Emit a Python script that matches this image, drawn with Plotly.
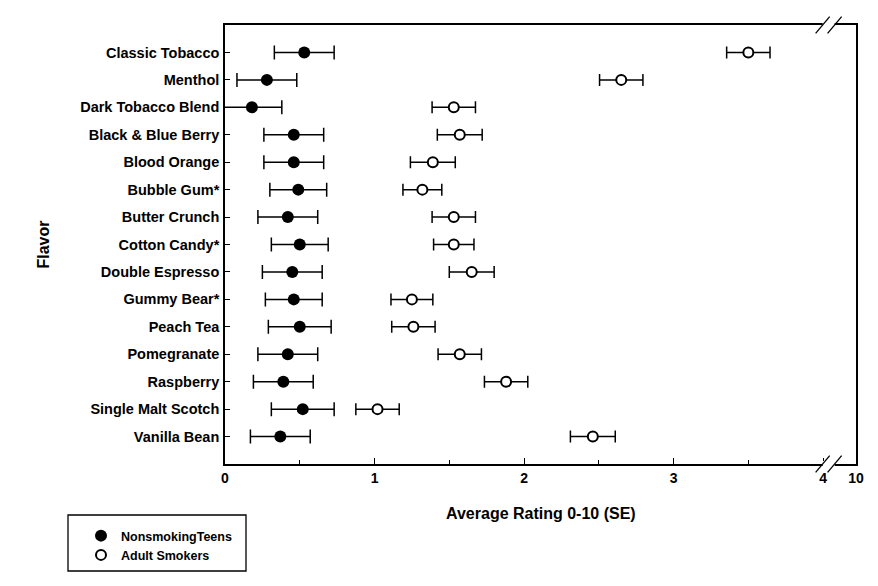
import plotly.graph_objects as go

flavors = ["Classic Tobacco", "Menthol", "Dark Tobacco Blend", "Black & Blue Berry",
           "Blood Orange", "Bubble Gum*", "Butter Crunch", "Cotton Candy*",
           "Double Espresso", "Gummy Bear*", "Peach Tea", "Pomegranate",
           "Raspberry", "Single Malt Scotch", "Vanilla Bean"]

teen_mean = [0.53, 0.28, 0.18, 0.46, 0.46, 0.49, 0.42, 0.50, 0.45, 0.46, 0.50, 0.42, 0.39, 0.52, 0.37]
teen_se = [0.20, 0.20, 0.20, 0.20, 0.20, 0.19, 0.20, 0.19, 0.20, 0.19, 0.21, 0.20, 0.20, 0.21, 0.20]

adult_mean = [3.50, 2.65, 1.53, 1.57, 1.39, 1.32, 1.53, 1.53, 1.65, 1.25, 1.26, 1.57, 1.88, 1.02, 2.46]
adult_se = [0.145, 0.145, 0.145, 0.15, 0.15, 0.13, 0.145, 0.135, 0.15, 0.14, 0.145, 0.145, 0.145, 0.145, 0.15]

tick_vals = [0, 1, 2, 3, 4, 4.22]
tick_text = ["0", "1", "2", "3", "4", "10"]
minor_vals = [0.5, 1.5, 2.5, 3.5]

FONT = "Liberation Sans, Arial, sans-serif"

# page body has an 8px margin; figure coordinates are offset accordingly
OFF = 8
L, R_EDGE, T, B_EDGE = 225, 856, 25, 464
W_PLOT, H_PLOT = R_EDGE - L, B_EDGE - T


def px(xp):
    return (xp - L) / W_PLOT


def py(yp):
    return (B_EDGE - yp) / H_PLOT


fig = go.Figure()
fig.add_trace(go.Scatter(
    x=teen_mean, y=flavors, mode="markers", name="NonsmokingTeens",
    marker=dict(symbol="circle", size=12, color="black", line=dict(width=0)),
    error_x=dict(type="data", array=teen_se, color="black", thickness=1.5, width=7),
))
fig.add_trace(go.Scatter(
    x=adult_mean, y=flavors, mode="markers", name="Adult Smokers",
    marker=dict(symbol="circle", size=10, color="white", line=dict(width=2, color="black")),
    error_x=dict(type="data", array=adult_se, color="black", thickness=1.5, width=6),
))

# axis-break decorations
shapes = []
for yc in (0.0, 1.0):
    shapes.append(dict(type="rect", xref="x", yref="paper", x0=3.997, x1=4.077,
                       y0=yc - 0.007, y1=yc + 0.007, fillcolor="white",
                       line=dict(width=0), layer="above"))
    for xc in (3.997, 4.077):
        shapes.append(dict(type="line", xref="x", yref="paper",
                           x0=xc - 0.047, x1=xc + 0.047,
                           y0=yc - 0.019, y1=yc + 0.019,
                           line=dict(color="black", width=1.3), layer="above"))
# legend frame
shapes.append(dict(type="rect", xref="paper", yref="paper",
                   x0=px(68), x1=px(246), y0=py(571), y1=py(515),
                   line=dict(color="black", width=1.3), fillcolor="rgba(0,0,0,0)"))

fig.update_layout(
    width=878 - OFF, height=586 - OFF,
    margin=dict(l=L - OFF, r=878 - R_EDGE, t=T - OFF, b=586 - B_EDGE),
    paper_bgcolor="white", plot_bgcolor="white",
    font=dict(family=FONT, color="black"),
    showlegend=True,
    legend=dict(x=px(81), y=py(521), xanchor="left", yanchor="top",
                bgcolor="rgba(0,0,0,0)", borderwidth=0,
                font=dict(family=FONT, size=12.5, weight="bold", color="black"),
                tracegroupgap=0, itemwidth=30),
    xaxis=dict(range=[0, 4.22], tickmode="array", tickvals=tick_vals, ticktext=tick_text,
               ticks="inside", ticklen=6, tickwidth=1.3, tickcolor="black",
               minor=dict(tickmode="array", tickvals=minor_vals, ticks="inside",
                          ticklen=4, tickwidth=1, tickcolor="black"),
               showline=True, linecolor="black", linewidth=1.6, mirror=True,
               showgrid=False, zeroline=False,
               tickfont=dict(family=FONT, size=14, weight="bold", color="black")),
    yaxis=dict(type="category", categoryorder="array", categoryarray=flavors,
               range=[15, -1], ticks="inside", ticklen=5, tickwidth=1.3, tickcolor="black",
               showline=True, linecolor="black", linewidth=1.6, mirror=True,
               showgrid=False, zeroline=False, ticklabelstandoff=1,
               tickfont=dict(family=FONT, size=14.5, weight="bold", color="black")),
    shapes=shapes,
    annotations=[
        dict(text="Flavor", xref="paper", yref="paper", x=px(43), y=0.5,
             xanchor="center", yanchor="middle", textangle=-90, showarrow=False,
             font=dict(family=FONT, size=16, weight="bold", color="black")),
        dict(text="Average Rating 0-10 (SE)", xref="paper", yref="paper",
             x=0.5, y=py(513), xanchor="center", yanchor="middle",
             showarrow=False,
             font=dict(family=FONT, size=16, weight="bold", color="black")),
    ],
)

fig.write_html("out.html")
